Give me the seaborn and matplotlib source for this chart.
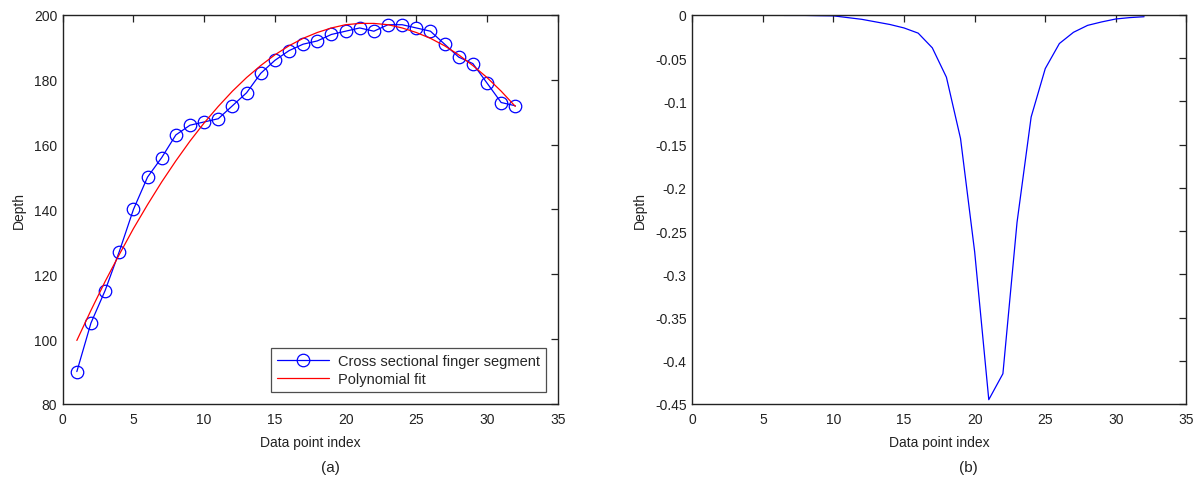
import numpy as np
import pandas as pd
import matplotlib
matplotlib.use("Agg")
import matplotlib.pyplot as plt
import seaborn as sns

# Cross-sectional depth profile and its polynomial fit
index_a = list(range(1, 33))
depth_profile = [90, 105, 115, 127, 140, 150, 156, 163, 166, 167, 168, 172,
                 176, 182, 186, 189, 191, 192, 194, 195, 196, 195, 197, 197,
                 196, 195, 191, 187, 185, 179, 173, 172]
poly_fit = [99.6, 108.9, 117.8, 126.1, 134.1, 141.5, 148.5, 155.0, 161.1,
            166.7, 171.8, 176.5, 180.7, 184.4, 187.7, 190.5, 192.8, 194.6,
            196.0, 197.0, 197.4, 197.4, 197.0, 196.0, 194.6, 192.8, 190.5,
            187.7, 184.4, 180.7, 176.5, 171.8]

# Depth response along the segment
index_b = [6.5] + list(range(8, 33))
depth_response = [-0.0005, -0.0005, -0.0008, -0.001, -0.003, -0.005, -0.008,
                  -0.011, -0.015, -0.021, -0.038, -0.072, -0.143, -0.274,
                  -0.445, -0.415, -0.24, -0.118, -0.062, -0.033, -0.02,
                  -0.012, -0.008, -0.0046, -0.003, -0.002]

yticks_a = [80, 100, 120, 140, 160, 180, 200]
yticks_b = [0, -0.05, -0.1, -0.15, -0.2, -0.25, -0.3, -0.35, -0.4, -0.45]
yticklabels_b = ["0", "-0.05", "-0.1", "-0.15", "-0.2", "-0.25", "-0.3",
                 "-0.35", "-0.4", "-0.45"]
xticks = [0, 5, 10, 15, 20, 25, 30, 35]

sns.set_style("white")
plt.rcParams["font.family"] = ["Liberation Sans", "DejaVu Sans"]
plt.rcParams["axes.edgecolor"] = "#222222"
plt.rcParams["axes.linewidth"] = 1.0

fig = plt.figure(figsize=(12.01, 4.89), dpi=100)
ax1 = fig.add_axes([0.0522, 0.1718, 0.4122, 0.7955])
ax2 = fig.add_axes([0.5764, 0.1718, 0.4115, 0.7955])

df_a = pd.DataFrame({"x": index_a, "depth": depth_profile, "fit": poly_fit})
df_b = pd.DataFrame({"x": index_b, "depth": depth_response})

blue = "#0000ff"
red = "#ff0000"

sns.lineplot(data=df_a, x="x", y="depth", ax=ax1, color=blue, lw=0.9,
             marker="o", markersize=9, markerfacecolor="none",
             markeredgecolor=blue, markeredgewidth=0.9,
             label="Cross sectional finger segment")
sns.lineplot(data=df_a, x="x", y="fit", ax=ax1, color=red, lw=0.9,
             label="Polynomial fit")

sns.lineplot(data=df_b, x="x", y="depth", ax=ax2, color=blue, lw=0.9)

for ax in (ax1, ax2):
    ax.set_xlim(0, 35)
    ax.set_xticks(xticks)
    ax.set_xlabel("Data point index", fontsize=10, color="#222222", labelpad=6)
    ax.set_ylabel("Depth", fontsize=10, color="#222222", labelpad=6)
    ax.tick_params(direction="in", top=True, right=True, length=5, width=0.9,
                   labelsize=10, colors="#222222")
    ax.tick_params(axis="x", pad=6)
    ax.tick_params(axis="y", pad=4)
    for s in ax.spines.values():
        s.set_visible(True)
        s.set_color("#222222")

ax1.set_ylim(80, 200)
ax1.set_yticks(yticks_a)
ax2.set_ylim(-0.45, 0)
ax2.set_yticks(yticks_b)
ax2.set_yticklabels(yticklabels_b)

leg = ax1.legend(loc="lower right", fontsize=10.5, frameon=True, fancybox=False,
                 edgecolor="#222222", handlelength=3.6, borderpad=0.4,
                 labelspacing=0.3, borderaxespad=0.8, handletextpad=0.6)
leg.get_frame().set_linewidth(0.9)

fig.text(0.275, 0.035, "(a)", fontsize=11, ha="center", color="#222222")
fig.text(0.806, 0.035, "(b)", fontsize=11, ha="center", color="#222222")

fig.savefig("out.png", dpi=100)
